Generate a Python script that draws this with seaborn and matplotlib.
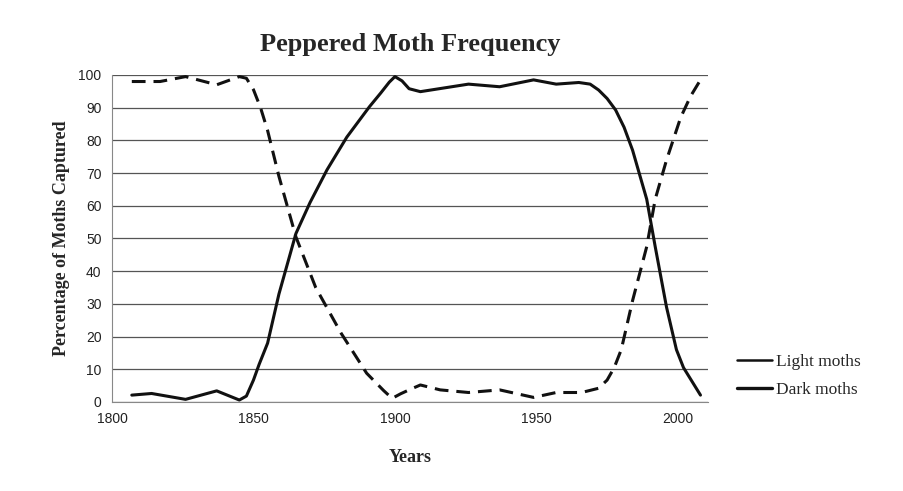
import pandas as pd
import numpy as np
import matplotlib.pyplot as plt
import seaborn as sns
from matplotlib.lines import Line2D

# values
light_years = [1807, 1817, 1826, 1837, 1845, 1847.5, 1850, 1852.5, 1855, 1859, 1865, 1872,
               1881, 1890, 1896, 1899, 1902, 1905, 1909, 1916, 1926, 1937, 1949, 1957,
               1966, 1972, 1975, 1977.5, 1980, 1984, 1989, 1992, 1996, 2001, 2004.5, 2008]
light_pct = [98, 98, 99.5, 97, 99.5, 99, 95.5, 90, 83, 69, 50.5, 35,
             21, 8.8, 3.5, 1.1, 2.5, 3.7, 5.2, 3.7, 2.9, 3.7, 1.4, 2.9,
             2.9, 4.2, 6.7, 10.5, 16, 31, 47.5, 62, 74, 87, 93.5, 98.5]

dark_years = [1807, 1814, 1826, 1837, 1845, 1847.5, 1850, 1852, 1855, 1859, 1865, 1870,
              1876, 1883, 1891, 1895, 1898, 1900, 1902.5, 1905, 1909, 1926, 1937, 1949,
              1957, 1965, 1969, 1972, 1975, 1978, 1981, 1984, 1989, 1992, 1996, 1999.5,
              2002, 2004, 2008]
dark_pct = [2.1, 2.6, 0.8, 3.4, 0.6, 1.8, 6.7, 11.5, 18, 33, 51.5, 61,
            71, 81, 90.3, 94.5, 97.8, 99.5, 98.2, 95.8, 94.9, 97.2, 96.4, 98.5,
            97.2, 97.7, 97.2, 95.4, 92.8, 89.3, 84, 77, 62, 47.5, 29, 16,
            10.5, 7.7, 2.1]

series_names = ["Light moths", "Dark moths"]
x_ticks = [1800, 1850, 1900, 1950, 2000]
y_ticks = list(range(0, 101, 10))

light_df = pd.DataFrame({"year": light_years, "pct": light_pct})
dark_df = pd.DataFrame({"year": dark_years, "pct": dark_pct})

sns.set_style("white")
plt.rcParams['font.family'] = ['Liberation Sans', 'DejaVu Sans']

fig = plt.figure(figsize=(9.04, 4.91), dpi=100)
ax = fig.add_axes([0.1239, 0.1813, 0.6591, 0.666])

sns.lineplot(x="year", y="pct", data=light_df, ax=ax, color="#111111",
             linewidth=2.2, linestyle=(0, (4.5, 2.6)))
sns.lineplot(x="year", y="pct", data=dark_df, ax=ax, color="#111111",
             linewidth=2.2)

ax.set_xlim(1800, 2010.6)
ax.set_ylim(0, 100)
ax.set_xticks(x_ticks)
ax.set_yticks(y_ticks)
ax.yaxis.grid(True, color="#555555", linewidth=0.9)
ax.set_axisbelow(True)
for side in ["top", "right"]:
    ax.spines[side].set_visible(False)
ax.spines["left"].set_color("#888888")
ax.spines["bottom"].set_color("#888888")
ax.tick_params(axis="both", which="both", direction="out", length=4,
               color="#888888", labelsize=10, labelcolor="#222222")

serif = ['Liberation Serif', 'DejaVu Serif']
ax.set_title("Peppered Moth Frequency", family=serif, fontweight="bold",
             fontsize=19, pad=17)
ax.set_xlabel("Years", family=serif, fontweight="bold", fontsize=13, labelpad=16)
ax.set_ylabel("Percentage of Moths Captured", family=serif, fontweight="bold",
              fontsize=13, labelpad=6)

handles = [Line2D([0], [0], color="#111111", linewidth=1.8),
           Line2D([0], [0], color="#111111", linewidth=2.4)]
ax.legend(handles, series_names, loc="lower left", bbox_to_anchor=(1.023, -0.037),
          frameon=False, prop={"family": serif, "size": 12.5}, handlelength=2.0,
          handletextpad=0.25, labelspacing=0.7)

plt.savefig("out.png", dpi=100)
